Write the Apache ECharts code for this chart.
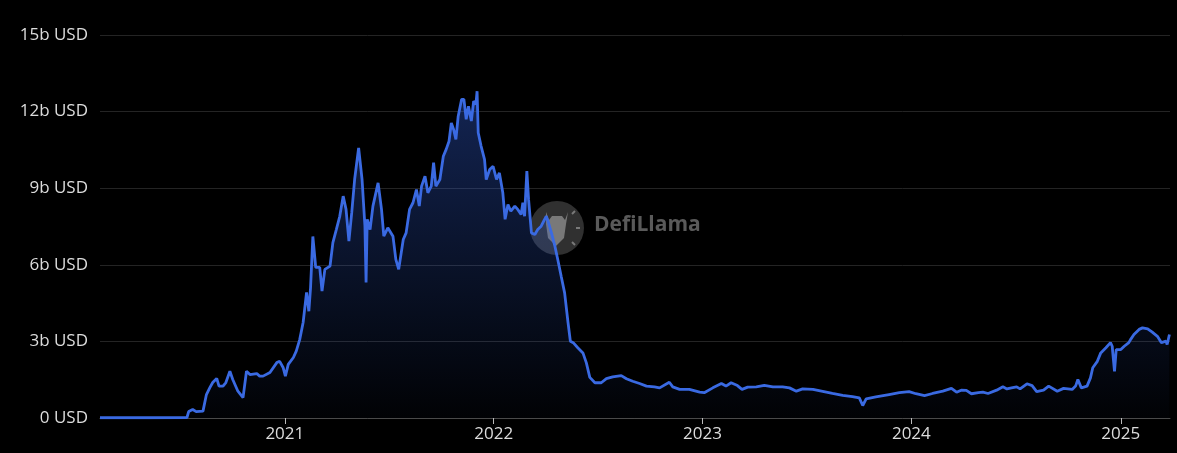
<!DOCTYPE html>
<html>
<head>
<meta charset="utf-8">
<script src="https://cdn.jsdelivr.net/npm/echarts@6/dist/echarts.min.js"></script>
<style>
  html, body { margin: 0; padding: 0; background: #000; }
  #chart { width: 1177px; height: 453px; }
</style>
</head>
<body>
<div id="chart"></div>
<script>
// TVL in billions USD
const dates = [
  '2020-02-13','2020-05-10','2020-07-14','2020-07-17','2020-07-24','2020-07-30','2020-08-11','2020-08-17','2020-08-23','2020-08-28',
  '2020-09-04','2020-09-08','2020-09-15','2020-09-20','2020-09-27','2020-10-02','2020-10-11','2020-10-20','2020-10-23','2020-10-26',
  '2020-11-01','2020-11-13','2020-11-18','2020-11-24','2020-12-06','2020-12-18','2020-12-23','2020-12-29',
  '2021-01-02','2021-01-07','2021-01-16','2021-01-21','2021-01-27','2021-02-02','2021-02-08','2021-02-12','2021-02-15','2021-02-19',
  '2021-02-24','2021-03-03','2021-03-07','2021-03-12','2021-03-21','2021-03-26','2021-04-01','2021-04-07','2021-04-13','2021-04-18',
  '2021-04-23','2021-04-28','2021-05-03','2021-05-10','2021-05-16','2021-05-21','2021-05-23','2021-05-25','2021-05-30','2021-06-04',
  '2021-06-13','2021-06-19','2021-06-23','2021-06-30','2021-07-03','2021-07-09','2021-07-14','2021-07-19','2021-07-27','2021-08-01',
  '2021-08-07','2021-08-13','2021-08-19','2021-08-24','2021-08-28','2021-09-03','2021-09-08','2021-09-14','2021-09-18','2021-09-22',
  '2021-09-29','2021-10-05','2021-10-10','2021-10-15','2021-10-19','2021-10-23','2021-10-27','2021-10-31','2021-11-06','2021-11-10',
  '2021-11-14','2021-11-18','2021-11-23','2021-11-27','2021-12-01','2021-12-03','2021-12-05','2021-12-10','2021-12-16','2021-12-19',
  '2021-12-25','2021-12-31',
  '2022-01-06','2022-01-11','2022-01-17','2022-01-21','2022-01-26','2022-01-31','2022-02-07','2022-02-12','2022-02-18','2022-02-21',
  '2022-02-24','2022-02-28','2022-03-03','2022-03-08','2022-03-14','2022-03-19','2022-03-25','2022-03-31','2022-04-03','2022-04-06',
  '2022-04-12','2022-04-18','2022-04-23','2022-04-29','2022-05-05','2022-05-11','2022-05-15','2022-05-20','2022-05-23','2022-05-28',
  '2022-06-06','2022-06-12','2022-06-18','2022-06-27','2022-07-08','2022-07-17','2022-07-28','2022-08-12','2022-08-21','2022-09-01',
  '2022-09-13','2022-09-25','2022-10-09','2022-10-18','2022-11-04','2022-11-10','2022-11-22','2022-12-09','2022-12-27',
  '2023-01-04','2023-01-19','2023-02-03','2023-02-11','2023-02-20','2023-03-03','2023-03-11','2023-03-21','2023-04-05','2023-04-19',
  '2023-05-04','2023-05-21','2023-06-02','2023-06-14','2023-06-25','2023-07-13','2023-07-30','2023-08-16','2023-09-03','2023-09-20',
  '2023-10-02','2023-10-08','2023-10-14','2023-10-31','2023-11-23','2023-12-11','2023-12-28',
  '2024-01-09','2024-01-24','2024-02-07','2024-02-25','2024-03-11','2024-03-20','2024-03-28','2024-04-06','2024-04-15','2024-04-27',
  '2024-05-05','2024-05-14','2024-05-29','2024-06-09','2024-06-16','2024-06-24','2024-07-03','2024-07-09','2024-07-21','2024-07-30',
  '2024-08-07','2024-08-19','2024-08-28','2024-09-12','2024-09-23','2024-10-08','2024-10-14','2024-10-18','2024-10-24','2024-11-03',
  '2024-11-09','2024-11-13','2024-11-21','2024-11-27','2024-12-06','2024-12-14','2024-12-17','2024-12-21','2024-12-24',
  '2025-01-01','2025-01-07','2025-01-15','2025-01-18','2025-01-24','2025-02-02','2025-02-08','2025-02-17','2025-02-25','2025-03-06',
  '2025-03-13','2025-03-21','2025-03-23','2025-03-27'
];
const tvl = [
  0.01,0.01,0.02,0.25,0.33,0.25,0.27,0.92,1.19,1.39,
  1.55,1.25,1.25,1.39,1.83,1.51,1.05,0.80,0.86,1.83,
  1.70,1.74,1.64,1.64,1.78,2.17,2.22,1.98,
  1.64,2.10,2.37,2.62,3.07,3.74,4.92,4.18,5.11,7.11,
  5.90,5.90,4.97,5.82,5.95,6.87,7.38,7.90,8.69,8.17,
  6.93,8.05,9.34,10.58,9.34,7.51,5.31,7.78,7.38,8.30,
  9.21,8.17,7.12,7.45,7.51,7.12,6.21,5.82,6.99,7.25,
  8.17,8.43,8.95,8.30,9.08,9.47,8.82,9.08,10.00,9.08,
  9.34,10.25,10.52,10.84,11.56,11.30,10.91,11.82,12.48,12.48,
  11.70,12.21,11.63,12.41,12.28,12.80,11.17,10.65,10.13,9.34,
  9.73,9.86,
  9.34,9.60,8.82,7.78,8.36,8.10,8.30,8.17,7.97,8.43,
  7.90,9.67,8.56,7.25,7.19,7.38,7.51,7.78,7.90,7.71,
  7.25,6.73,6.21,5.55,4.90,3.73,3.01,2.95,3.01,2.75,
  2.55,2.16,1.59,1.38,1.38,1.54,1.61,1.66,1.54,1.44,
  1.35,1.25,1.22,1.18,1.40,1.22,1.12,1.12,1.01,
  0.99,1.18,1.35,1.25,1.38,1.27,1.12,1.21,1.22,1.28,
  1.22,1.22,1.18,1.05,1.14,1.12,1.04,0.96,0.89,0.84,
  0.79,0.49,0.75,0.83,0.92,0.99,1.03,
  0.95,0.88,0.96,1.05,1.16,1.01,1.09,1.08,0.95,0.99,
  1.01,0.96,1.09,1.22,1.14,1.18,1.22,1.14,1.34,1.27,
  1.03,1.09,1.25,1.05,1.16,1.12,1.25,1.51,1.18,1.25,
  1.57,1.97,2.22,2.55,2.75,2.95,2.81,1.83,2.68,
  2.68,2.81,2.95,3.07,3.27,3.47,3.53,3.49,3.36,3.20,
  2.95,3.01,2.88,3.27
];
const yTicks = [0, 3, 6, 9, 12, 15];
const axisStart = '2020-02-13';
const axisEnd = '2025-03-28';

const seriesData = dates.map((d, i) => [d, tvl[i]]);
const YEAR = 365 * 24 * 3600 * 1000;

const chart = echarts.init(document.getElementById('chart'));
chart.setOption({
  backgroundColor: '#000000',
  animation: false,
  grid: { left: 100, right: 7, top: 35, bottom: 35, containLabel: false },
  textStyle: { fontFamily: 'Open Sans, Noto Sans, sans-serif' },
  graphic: [
    { type: 'circle', z: 0, shape: { cx: 557, cy: 228, r: 27 }, style: { fill: 'rgba(60,60,60,0.8)' } },
    { type: 'polygon', z: 0, shape: { points: [[546,212],[549,220],[552,216],[562,216],[565,220],[568,212],[566,224],[564,238],[556,246],[548,238],[546,224]] }, style: { fill: 'rgba(140,140,140,0.8)' } },
    { type: 'line', z: 0, shape: { x1: 572, y1: 214, x2: 575, y2: 211 }, style: { stroke: 'rgba(140,140,140,0.8)', lineWidth: 2 } },
    { type: 'line', z: 0, shape: { x1: 576, y1: 228, x2: 580, y2: 228 }, style: { stroke: 'rgba(140,140,140,0.8)', lineWidth: 2 } },
    { type: 'line', z: 0, shape: { x1: 572, y1: 242, x2: 575, y2: 245 }, style: { stroke: 'rgba(140,140,140,0.8)', lineWidth: 2 } },
    { type: 'text', z: 0, left: 594, top: 215, style: { text: 'DefiLlama', fill: '#5a5a5a', font: 'bold 21px "Open Sans", sans-serif' } }
  ],
  xAxis: {
    type: 'time',
    min: axisStart,
    max: axisEnd,
    minInterval: YEAR,
    maxInterval: YEAR,
    axisLine: { show: true, lineStyle: { color: '#4a4a4a', width: 1 } },
    axisTick: { show: true, length: 6, lineStyle: { color: '#bbbbbb' } },
    splitLine: { show: false },
    axisLabel: {
      color: '#dcdcdc', fontSize: 17, margin: 8,
      formatter: (v) => String(new Date(v).getFullYear())
    }
  },
  yAxis: {
    type: 'value',
    min: yTicks[0],
    max: yTicks[yTicks.length - 1],
    interval: 3,
    axisLine: { show: false },
    axisTick: { show: false },
    splitLine: { show: true, lineStyle: { color: '#242424', width: 1 } },
    axisLabel: {
      color: '#dcdcdc', fontSize: 17, margin: 12,
      formatter: (v) => v === 0 ? '0 USD' : v + 'b USD'
    }
  },
  series: [{
    type: 'line',
    data: seriesData,
    showSymbol: false,
    smooth: false,
    z: 2,
    lineStyle: { color: '#3a6ae2', width: 2.8 },
    itemStyle: { color: '#3a6ae2' },
    areaStyle: {
      color: new echarts.graphic.LinearGradient(0, 0, 0, 1, [
        { offset: 0, color: 'rgba(50,95,215,0.55)' },
        { offset: 1, color: 'rgba(50,95,215,0.03)' }
      ])
    }
  }]
});
</script>
</body>
</html>
